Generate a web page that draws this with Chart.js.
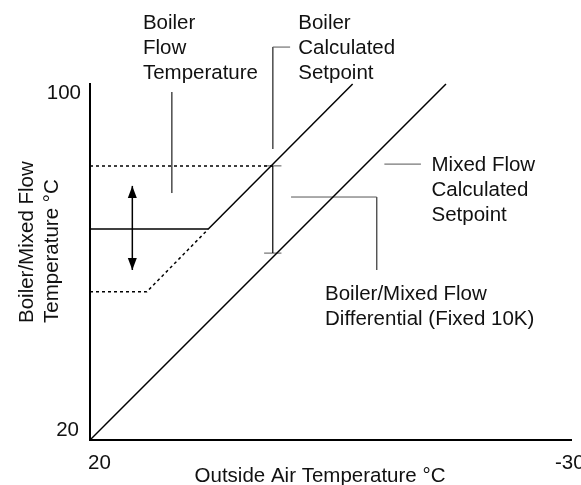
<!DOCTYPE html>
<html>
<head>
<meta charset="utf-8">
<script src="https://cdn.jsdelivr.net/npm/chart.js@4/dist/chart.umd.min.js"></script>
<style>
  html, body { margin: 0; padding: 0; background: #fff; }
  #wrap { width: 581px; height: 485px; position: relative; }
</style>
</head>
<body>
<div id="wrap"><canvas id="chart"></canvas></div>
<script>
// axes: outside air runs warm (left) to cold (right)
const xRange = [20, -30];
const yRange = [20, 100];
const xTickLabels = ['20', '-30'];
const yTickLabels = ['100', '20'];
const xTitle = 'Outside Air Temperature \u00B0C';
const yTitle = ['Boiler/Mixed Flow', 'Temperature \u00B0C'];

// curves as [outside air, flow temp]
const mixedSetpoint = [[20, 20], [-17, 100]];
const boilerSetpoint = [[7.7, 67.4], [-7.3, 100]];
const boilerFlowFlat = [[20, 67.4], [7.7, 67.4]];
const boilerFlowHigh = [[20, 81.6], [1, 81.6]];
const boilerFlowLow = [[20, 53.3], [14.1, 53.3], [7.7, 67.4]];

// fixed differential bar and the adjustment arrow
const diffAt = 1;
const diffRange = [62, 81.6];
const capHalf = 0.9;
const adjustAt = 15.6;
const adjustRange = [58.2, 77.1];

// callout leader lines
const leaders = [
  [[11.5, 98.2], [11.5, 75.5]],
  [[-0.8, 108.3], [1, 108.3], [1, 85.4]],
  [[-10.6, 82], [-14.4, 82]],
  [[-0.9, 74.6], [-9.8, 74.6], [-9.8, 58.2]]
];

// callout text, anchored at the first baseline
const callouts = [
  { at: [14.5, 112.4], lines: ['Boiler', 'Flow', 'Temperature'] },
  { at: [-1.65, 112.4], lines: ['Boiler', 'Calculated', 'Setpoint'] },
  { at: [-15.5, 80.5], lines: ['Mixed Flow', 'Calculated', 'Setpoint'] },
  { at: [-4.43, 51.5], lines: ['Boiler/Mixed Flow', 'Differential (Fixed 10K)'] }
];

const FONT = '20.5px "Liberation Sans", Arial, sans-serif';
const INK = '#111';

function seg(points, style) {
  style = style || {};
  return {
    data: points.map(p => ({ x: p[0], y: p[1] })),
    showLine: true,
    pointRadius: 0,
    borderColor: style.color || '#000',
    borderWidth: style.width || 1.5,
    borderDash: style.dashed ? [3, 3] : [],
    clip: false
  };
}

const thin = { color: '#555', width: 1 };

const datasets = [
  seg(mixedSetpoint),
  seg(boilerSetpoint),
  seg(boilerFlowFlat),
  seg(boilerFlowHigh, { dashed: true }),
  seg(boilerFlowLow, { dashed: true }),
  seg([[diffAt, diffRange[0]], [diffAt, diffRange[1]]], { width: 1.2 }),
  seg([[diffAt + capHalf, diffRange[0]], [diffAt - capHalf, diffRange[0]]], thin),
  seg([[diffAt + capHalf, diffRange[1]], [diffAt - capHalf, diffRange[1]]], thin),
  seg([[adjustAt, adjustRange[0]], [adjustAt, adjustRange[1]]])
].concat(leaders.map(l => seg(l, thin)));

// arrow heads, tick labels, titles and callouts
const annotate = {
  id: 'annotate',
  afterDraw(chart) {
    const ctx = chart.ctx;
    const xs = chart.scales.x, ys = chart.scales.y;
    const area = chart.chartArea;
    ctx.save();
    ctx.fillStyle = '#000';

    const ax = xs.getPixelForValue(adjustAt);
    [[adjustRange[1], -1], [adjustRange[0], 1]].forEach(([v, dir]) => {
      const tip = ys.getPixelForValue(v);
      ctx.beginPath();
      ctx.moveTo(ax, tip);
      ctx.lineTo(ax - 4.5, tip - dir * 12);
      ctx.lineTo(ax + 4.5, tip - dir * 12);
      ctx.closePath();
      ctx.fill();
    });

    ctx.fillStyle = INK;
    ctx.font = FONT;
    ctx.textBaseline = 'alphabetic';

    ctx.textAlign = 'right';
    ctx.fillText(yTickLabels[0], area.left - 9, area.top + 15);
    ctx.fillText(yTickLabels[1], area.left - 11, area.bottom - 4);
    ctx.textAlign = 'left';
    ctx.fillText(xTickLabels[0], area.left - 2, area.bottom + 29);
    ctx.fillText(xTickLabels[1], area.right - 16, area.bottom + 29);

    ctx.textAlign = 'center';
    ctx.fillText(xTitle, area.left + 230, area.bottom + 42);

    ctx.save();
    ctx.translate(33, 323);
    ctx.rotate(-Math.PI / 2);
    ctx.textAlign = 'left';
    ctx.fillText(yTitle[0], 0, 0);
    ctx.fillText(yTitle[1], 0, 25);
    ctx.restore();

    ctx.textAlign = 'left';
    callouts.forEach(c => {
      const x = xs.getPixelForValue(c.at[0]);
      const y = ys.getPixelForValue(c.at[1]);
      c.lines.forEach((t, i) => ctx.fillText(t, x, y + i * 25));
    });
    ctx.restore();
  }
};

const axisOpts = {
  ticks: { display: false },
  grid: { display: false, drawTicks: false },
  border: { display: true, color: '#000', width: 2 }
};

new Chart(document.getElementById('chart'), {
  type: 'scatter',
  data: { datasets },
  options: {
    responsive: true,
    maintainAspectRatio: false,
    animation: false,
    events: [],
    layout: { padding: { left: 90, right: 10, top: 84, bottom: 45 } },
    plugins: { legend: { display: false }, tooltip: { enabled: false } },
    scales: {
      x: Object.assign({ type: 'linear', min: xRange[1], max: xRange[0], reverse: true }, axisOpts),
      y: Object.assign({ type: 'linear', min: yRange[0], max: yRange[1] }, axisOpts)
    }
  },
  plugins: [annotate]
});
</script>
</body>
</html>
